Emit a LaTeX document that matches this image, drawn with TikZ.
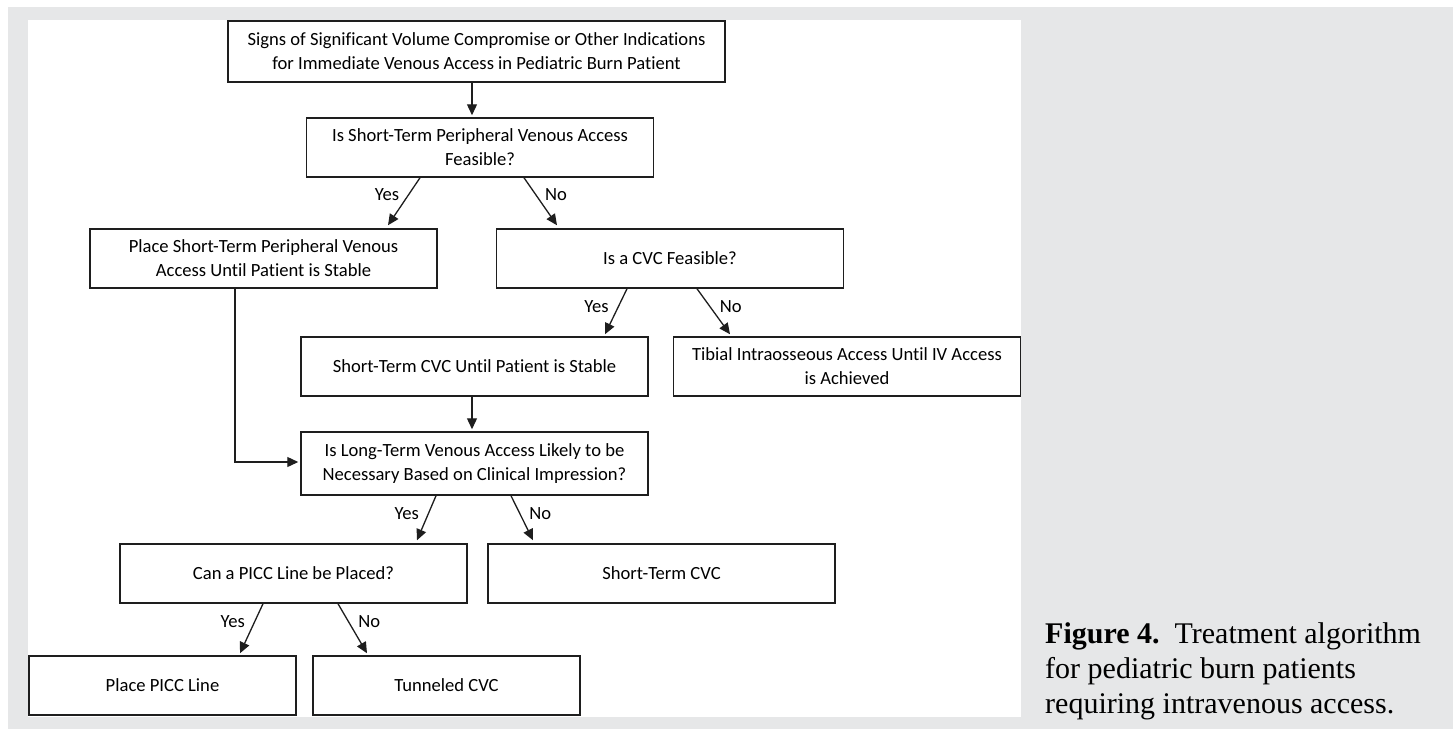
\documentclass[tikz,border=0pt]{standalone}
\usepackage{fontspec}
\setmainfont{Carlito}[Ligatures=NoCommon]
\newfontfamily\capfont{Liberation Serif}
\usetikzlibrary{arrows.meta}
\definecolor{panelgray}{HTML}{E6E7E8}
\definecolor{inkgray}{HTML}{1E1E1E}

\tikzset{
  stepbox/.style={draw=inkgray, line width=1.5pt, align=center, inner sep=0pt,
    minimum width=347pt, minimum height=59pt, font=\fontsize{18.6}{24}\selectfont},
  flow/.style={draw=inkgray, line width=1.3pt, -{Triangle[length=11pt,width=10pt]}},
  answer/.style={font=\fontsize{18.6}{22}\selectfont, inner sep=0pt}
}

\begin{document}
\begin{tikzpicture}[x=1pt,y=-1pt]
\useasboundingbox (0,0) rectangle (1453,729);
\fill [white] (0,0) rectangle (1453,729);
\fill [panelgray] (8,7) rectangle (1453,729);
\fill [white] (28,20) rectangle (1021,717);

\node [stepbox, minimum width=497pt, minimum height=61pt] (signs) at (476.5,51.5)
  {Signs of Significant Volume Compromise or Other Indications\\for Immediate Venous Access in Pediatric Burn Patient};
\node [stepbox] (pivq) at (480,147.5) {Is Short-Term Peripheral Venous Access\\Feasible?};
\node [stepbox] (pivplace) at (263.5,258.5) {Place Short-Term Peripheral Venous\\Access Until Patient is Stable};
\node [stepbox] (cvcq) at (670,258.5) {Is a CVC Feasible?};
\node [stepbox] (cvcshort) at (474.5,366.5) {Short-Term CVC Until Patient is Stable};
\node [stepbox] (tibial) at (847,366.5) {Tibial Intraosseous Access Until IV Access\\is Achieved};
\node [stepbox, minimum height=63pt] (longq) at (474.5,463.5) {Is Long-Term Venous Access Likely to be\\Necessary Based on Clinical Impression?};
\node [stepbox] (piccq) at (293.5,573.5) {Can a PICC Line be Placed?};
\node [stepbox] (cvcfinal) at (661.5,573.5) {Short-Term CVC};
\node [stepbox, minimum width=267pt] (picc) at (162.5,685.5) {Place PICC Line};
\node [stepbox, minimum width=267pt] (tunnel) at (446.5,685.5) {Tunneled CVC};

\draw [flow] ([xshift=-4.5pt]signs.south) -- ([xshift=-8pt,yshift=2pt]pivq.north);
\draw [flow] ([xshift=-60pt]pivq.south) -- node [answer, pos=0.35, left=9pt] {Yes} ([xshift=124.5pt,yshift=3pt]pivplace.north);
\draw [flow] ([xshift=44pt]pivq.south) -- node [answer, pos=0.35, right=9pt] {No} ([xshift=-113pt,yshift=3pt]cvcq.north);
\draw [flow] ([xshift=-43pt]cvcq.south) -- node [answer, pos=0.4, left=9pt] {Yes} ([xshift=130.5pt,yshift=2pt]cvcshort.north);
\draw [flow] ([xshift=27pt]cvcq.south) -- node [answer, pos=0.4, right=9pt] {No} ([xshift=-117pt,yshift=2pt]tibial.north);
\draw [flow] ([xshift=-2.5pt]cvcshort.south) -- ([xshift=-2.5pt,yshift=2pt]longq.north);
\draw [flow] ([xshift=-28.5pt]pivplace.south) |- ([xshift=-2pt,yshift=1.5pt]longq.west);
\draw [flow] ([xshift=-38.5pt]longq.south) -- node [answer, pos=0.39, left=9pt] {Yes} ([xshift=123.5pt,yshift=3pt]piccq.north);
\draw [flow] ([xshift=36.5pt]longq.south) -- node [answer, pos=0.4, right=9pt] {No} ([xshift=-128.5pt,yshift=3pt]cvcfinal.north);
\draw [flow] ([xshift=-30.5pt]piccq.south) -- node [answer, pos=0.37, left=9pt] {Yes} ([xshift=77.5pt,yshift=2pt]picc.north);
\draw [flow] ([xshift=44.5pt]piccq.south) -- node [answer, pos=0.37, right=9pt] {No} ([xshift=-79.5pt,yshift=2pt]tunnel.north);

\node [anchor=base west, align=left, inner sep=0pt, font=\capfont\fontsize{30}{35}\selectfont] (caption) at (1045,713)
  {\textbf{Figure 4.}\ \ Treatment algorithm\\for pediatric burn patients\\requiring intravenous access.};
\end{tikzpicture}
\end{document}
